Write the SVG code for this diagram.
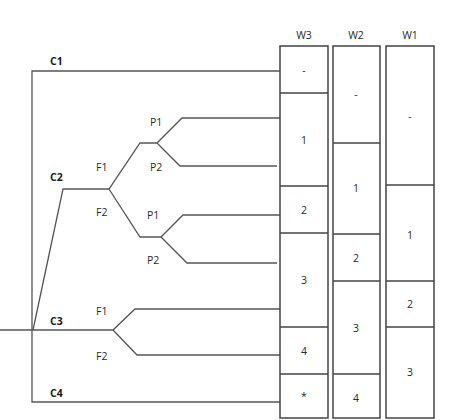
<svg xmlns="http://www.w3.org/2000/svg" width="456" height="420" viewBox="0 0 456 420">
<style>
.ln{fill:none;stroke:#555;stroke-width:1.3}
.bx{fill:#fff;stroke:#444;stroke-width:1.5}
.dv{stroke:#444;stroke-width:1.5}
text{font-family:"Open Sans","Liberation Sans",sans-serif;font-size:10.5px;fill:#2a2a2a}
.b{font-weight:bold;fill:#1a1a1a}
.c{text-anchor:middle;dominant-baseline:central}
</style>
<rect width="456" height="420" fill="#fff"/>
<g id="connectors">
<path class="ln" d="M280,71 H32 V402 H280"/>
<path class="ln" d="M0,330 H113 L135,309 H280 M113,330 L137,355 H280"/>
<path class="ln" d="M33,330 L63,189 H109 L140,143 H157 L182,118 H280 M157,143 L180,166 H277"/>
<path class="ln" d="M109,189 L140,237 H161 L183,215 H280 M161,237 L187,263 H277"/>
</g>
<g id="labels">
<text class="b" x="50" y="65">C1</text>
<text class="b" x="50" y="181">C2</text>
<text class="b" x="50" y="325">C3</text>
<text class="b" x="50" y="397">C4</text>
<text x="150" y="126">P1</text>
<text x="150" y="171">P2</text>
<text x="96" y="171">F1</text>
<text x="96" y="216">F2</text>
<text x="147" y="219">P1</text>
<text x="147" y="264">P2</text>
<text x="96" y="315">F1</text>
<text x="96" y="360">F2</text>
</g>
<g id="W3">
<text class="c" x="304" y="35">W3</text>
<rect class="bx" x="280" y="46" width="48" height="372"/>
<path class="dv" d="M280,93H328M280,186H328M280,233H328M280,327H328M280,374H328"/>
<text class="c" x="304" y="70">-</text>
<text class="c" x="304" y="140">1</text>
<text class="c" x="304" y="210">2</text>
<text class="c" x="304" y="280">3</text>
<text class="c" x="304" y="351">4</text>
<text class="c" x="304" y="396">*</text>
</g>
<g id="W2">
<text class="c" x="356" y="35">W2</text>
<rect class="bx" x="333" y="46" width="47" height="372"/>
<path class="dv" d="M333,143H380M333,234H380M333,281H380M333,374H380"/>
<text class="c" x="356" y="94">-</text>
<text class="c" x="356" y="188">1</text>
<text class="c" x="356" y="258">2</text>
<text class="c" x="356" y="328">3</text>
<text class="c" x="356" y="398">4</text>
</g>
<g id="W1">
<text class="c" x="410" y="35">W1</text>
<rect class="bx" x="386" y="46" width="48" height="372"/>
<path class="dv" d="M386,185H434M386,281H434M386,327H434"/>
<text class="c" x="410" y="116">-</text>
<text class="c" x="410" y="235">1</text>
<text class="c" x="410" y="304">2</text>
<text class="c" x="410" y="372">3</text>
</g>
</svg>
